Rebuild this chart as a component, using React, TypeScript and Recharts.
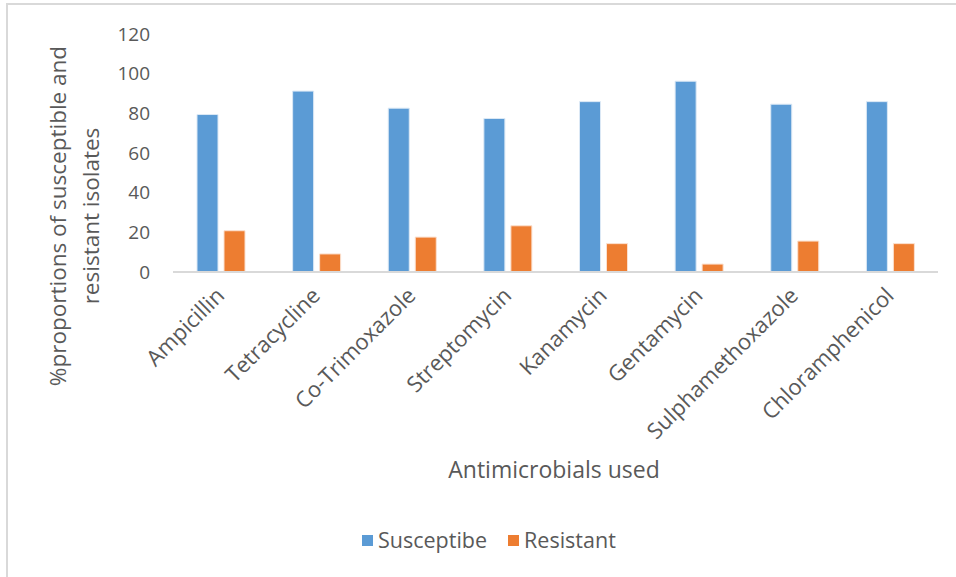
import { BarChart, Bar, XAxis, YAxis, Legend } from 'recharts';

const drugs = [
  'Ampicillin',
  'Tetracycline',
  'Co-Trimoxazole',
  'Streptomycin',
  'Kanamycin',
  'Gentamycin',
  'Sulphamethoxazole',
  'Chloramphenicol',
];
const susceptible = [79.4, 91.2, 82.6, 77.4, 85.9, 96.2, 84.6, 85.9];
const resistant = [20.8, 9.1, 17.6, 23.3, 14.3, 4.0, 15.6, 14.3];
const yTicks = [0, 20, 40, 60, 80, 100, 120];

const data = drugs.map((name, i) => ({
  name,
  susceptible: susceptible[i],
  resistant: resistant[i],
}));

const BLUE = '#5b9bd5';
const ORANGE = '#ed7d31';
const TEXT = '#595959';
const FONT = '"Open Sans", sans-serif';

function XTick({ x, y, payload }: any) {
  const tx = x + 5;
  const ty = y + 17;
  return (
    <text
      x={tx}
      y={ty}
      transform={`rotate(-45, ${tx}, ${ty})`}
      textAnchor="end"
      fill={TEXT}
      fontSize={22}
      fontFamily={FONT}
    >
      {payload.value}
    </text>
  );
}

function YTitle() {
  return (
    <g fill={TEXT} fontSize={22.5} fontFamily={FONT}>
      <text x={66} y={216} transform="rotate(-90, 66, 216)" textAnchor="middle">
        %proportions of susceptible and
      </text>
      <text x={99} y={216} transform="rotate(-90, 99, 216)" textAnchor="middle">
        resistant isolates
      </text>
    </g>
  );
}

function XTitle() {
  return (
    <text x={554} y={478} textAnchor="middle" fill={TEXT} fontSize={23} fontFamily={FONT}>
      Antimicrobials used
    </text>
  );
}

function LegendBox() {
  const items = [
    { label: 'Susceptibe', color: BLUE },
    { label: 'Resistant', color: ORANGE },
  ];
  return (
    <div style={{ display: 'flex', paddingLeft: 362, gap: 21 }}>
      {items.map((it) => (
        <div key={it.label} style={{ display: 'flex', alignItems: 'center', gap: 5 }}>
          <span style={{ width: 11, height: 11, background: it.color, display: 'inline-block' }} />
          <span style={{ color: TEXT, fontSize: 21.5, fontFamily: FONT, lineHeight: '24px' }}>{it.label}</span>
        </div>
      ))}
    </div>
  );
}

export default function App() {
  return (
    <div style={{ position: 'absolute', left: 0, top: 0, width: 956, height: 577, background: '#fff' }}>
      <div style={{ position: 'absolute', left: 6, top: 3, width: 950, height: 2, background: '#d9d9d9' }} />
      <div style={{ position: 'absolute', left: 6, top: 3, width: 2, height: 574, background: '#d9d9d9' }} />
      <BarChart
        width={956}
        height={577}
        data={data}
        margin={{ top: 34, right: 18, bottom: 0, left: 0 }}
        barSize={21}
        barGap={6}
      >
        <XAxis
          dataKey="name"
          height={305}
          interval={0}
          tickLine={false}
          axisLine={{ stroke: '#d9d9d9', strokeWidth: 2 }}
          tick={<XTick />}
        />
        <YAxis
          width={173}
          domain={[0, 120]}
          ticks={yTicks}
          axisLine={false}
          tickLine={false}
          tickSize={0}
          tickMargin={23}
          tick={{ fill: TEXT, fontSize: 19, fontFamily: FONT }}
        />
        <Bar dataKey="susceptible" name="Susceptibe" fill={BLUE} stroke="#dbe8f5" strokeWidth={1} isAnimationActive={false} />
        <Bar dataKey="resistant" name="Resistant" fill={ORANGE} stroke="#fbe0cf" strokeWidth={1} isAnimationActive={false} />
        <Legend
          verticalAlign="middle"
          align="center"
          layout="horizontal"
          wrapperStyle={{ top: 528, left: 0, width: 956 }}
          content={<LegendBox />}
        />
        <YTitle />
        <XTitle />
      </BarChart>
    </div>
  );
}
